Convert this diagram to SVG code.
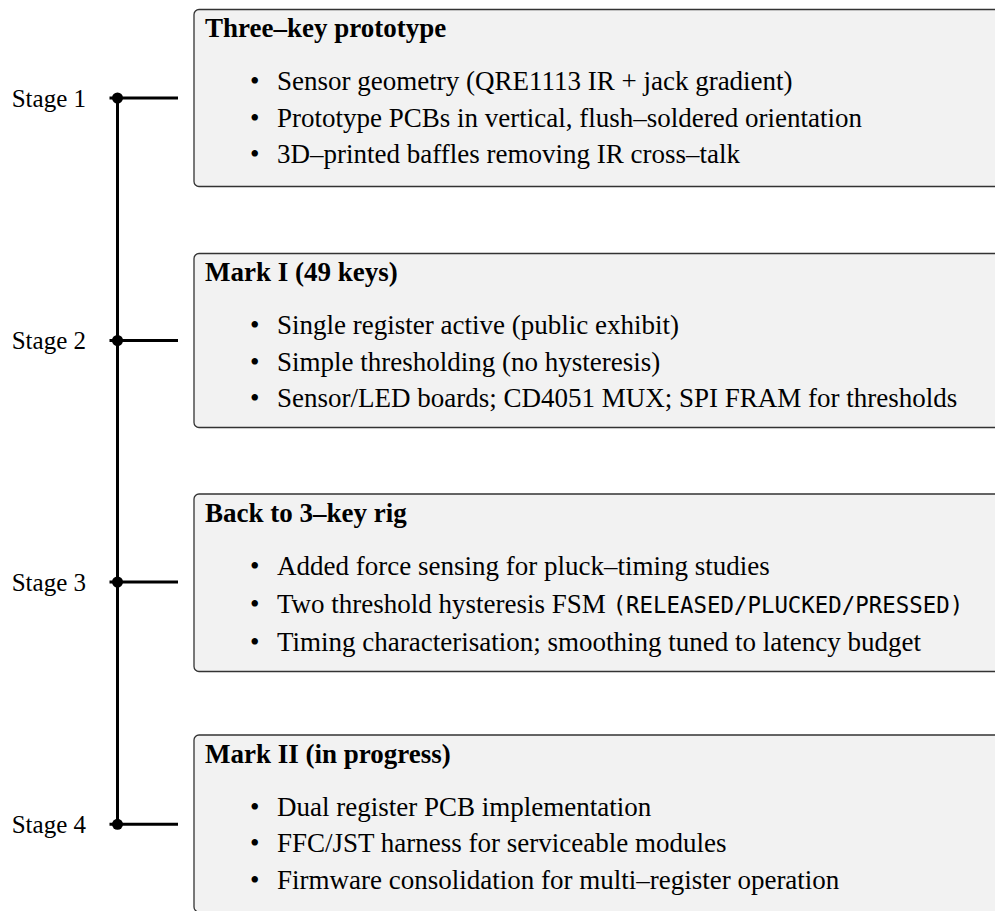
<svg xmlns="http://www.w3.org/2000/svg" width="995" height="911" viewBox="0 0 995 911">
  <style>
    .box { fill: #f2f2f2; stroke: #333333; stroke-width: 1.3; }
    .title { font-family: "Liberation Serif", "Times New Roman", serif; font-weight: bold; font-size: 27px; fill: #000; }
    .item { font-family: "Liberation Serif", "Times New Roman", serif; font-size: 27px; fill: #000; }
    .mono { font-family: "DejaVu Sans Mono", "Liberation Mono", monospace; font-size: 22.4px; }
    .stage { font-family: "Liberation Serif", "Times New Roman", serif; font-size: 25px; fill: #000; text-anchor: end; }
    .line { stroke: #000; stroke-width: 3; fill: none; }
    .dot { fill: #000; }
  </style>

  <!-- timeline spine and stage stubs -->
  <g id="connectors">
    <line class="line" x1="117.5" y1="98" x2="117.5" y2="824.3"/>
    <line class="line" x1="109.5" y1="98" x2="178" y2="98"/>
    <line class="line" x1="109.5" y1="340.5" x2="178" y2="340.5"/>
    <line class="line" x1="109.5" y1="582" x2="178" y2="582"/>
    <line class="line" x1="109.5" y1="824.3" x2="178" y2="824.3"/>
    <circle class="dot" cx="117.5" cy="98" r="5.5"/>
    <circle class="dot" cx="117.5" cy="340.5" r="5.5"/>
    <circle class="dot" cx="117.5" cy="582" r="5.5"/>
    <circle class="dot" cx="117.5" cy="824.3" r="5.5"/>
  </g>

  <g id="stage1">
    <text class="stage" x="86" y="106.5">Stage 1</text>
    <rect class="box" x="194" y="9.5" width="830" height="177" rx="5"/>
    <text class="title" x="205" y="37">Three–key prototype</text>
    <text class="item" x="250" y="90">•</text>
    <text class="item" x="277" y="90">Sensor geometry (QRE1113 IR + jack gradient)</text>
    <text class="item" x="250" y="126.5">•</text>
    <text class="item" x="277" y="126.5">Prototype PCBs in vertical, flush–soldered orientation</text>
    <text class="item" x="250" y="163">•</text>
    <text class="item" x="277" y="163">3D–printed baffles removing IR cross–talk</text>
  </g>

  <g id="stage2">
    <text class="stage" x="86" y="349">Stage 2</text>
    <rect class="box" x="194" y="253.5" width="830" height="174" rx="5"/>
    <text class="title" x="205" y="281">Mark I (49 keys)</text>
    <text class="item" x="250" y="334">•</text>
    <text class="item" x="277" y="334">Single register active (public exhibit)</text>
    <text class="item" x="250" y="370.5">•</text>
    <text class="item" x="277" y="370.5">Simple thresholding (no hysteresis)</text>
    <text class="item" x="250" y="407">•</text>
    <text class="item" x="277" y="407">Sensor/LED boards; CD4051 MUX; SPI FRAM for thresholds</text>
  </g>

  <g id="stage3">
    <text class="stage" x="86" y="590.5">Stage 3</text>
    <rect class="box" x="194" y="494" width="830" height="177.5" rx="5"/>
    <text class="title" x="205" y="521.5">Back to 3–key rig</text>
    <text class="item" x="250" y="575">•</text>
    <text class="item" x="277" y="575">Added force sensing for pluck–timing studies</text>
    <text class="item" x="250" y="613">•</text>
    <text class="item" x="277" y="613">Two threshold hysteresis FSM <tspan class="mono">(RELEASED/PLUCKED/PRESSED)</tspan></text>
    <text class="item" x="250" y="651">•</text>
    <text class="item" x="277" y="651">Timing characterisation; smoothing tuned to latency budget</text>
  </g>

  <g id="stage4">
    <text class="stage" x="86" y="832.5">Stage 4</text>
    <rect class="box" x="194" y="735" width="830" height="177" rx="5"/>
    <text class="title" x="205" y="762.5">Mark II (in progress)</text>
    <text class="item" x="250" y="815.5">•</text>
    <text class="item" x="277" y="815.5">Dual register PCB implementation</text>
    <text class="item" x="250" y="852">•</text>
    <text class="item" x="277" y="852">FFC/JST harness for serviceable modules</text>
    <text class="item" x="250" y="888.5">•</text>
    <text class="item" x="277" y="888.5">Firmware consolidation for multi–register operation</text>
  </g>
</svg>
